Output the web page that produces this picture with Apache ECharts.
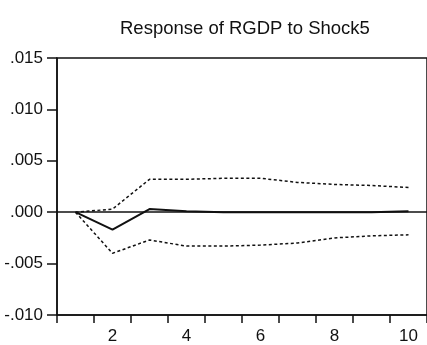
<!DOCTYPE html>
<html>
<head>
<meta charset="utf-8">
<script src="https://cdn.jsdelivr.net/npm/echarts@6/dist/echarts.min.js"></script>
<style>
  html, body { margin: 0; padding: 0; background: #fff; }
  #main { width: 427px; height: 345px; }
</style>
</head>
<body>
<div id="main"></div>
<script>
var periods = ['1', '2', '3', '4', '5', '6', '7', '8', '9', '10'];
var response = [0.0000, -0.0017, 0.0003, 0.0001, 0.0000, 0.0000, 0.0000, 0.0000, 0.0000, 0.0001];
var upperBand = [0.0000, 0.0003, 0.0032, 0.0032, 0.0033, 0.0033, 0.0029, 0.0027, 0.0026, 0.0024];
var lowerBand = [0.0000, -0.0040, -0.0027, -0.0033, -0.0033, -0.0032, -0.0030, -0.0025, -0.0023, -0.0022];

var chartDom = document.getElementById('main');
var myChart = echarts.init(chartDom);
var option;

function fmt(v) {
  var s = Math.abs(v).toFixed(3).replace(/^0/, '');
  return (v < -1e-9 ? '-' : '') + s;
}

var dotted = {
  color: '#111',
  width: 1.5,
  type: [3, 2.5]
};

option = {
  backgroundColor: '#fff',
  animation: false,
  title: {
    text: 'Response of RGDP to Shock5',
    left: 115,
    top: 14,
    textStyle: {
      fontFamily: 'Liberation Sans',
      fontSize: 18.5,
      fontWeight: 'normal',
      color: '#111'
    }
  },
  grid: {
    left: 57,
    top: 58,
    right: -3,
    bottom: 28,
    show: true,
    borderColor: '#111',
    borderWidth: 1.5
  },
  xAxis: {
    type: 'category',
    data: periods,
    boundaryGap: true,
    axisLine: { show: true, onZero: false, lineStyle: { color: '#111', width: 1.5 } },
    axisTick: { show: true, interval: 0, length: 8, lineStyle: { color: '#111', width: 1.5 } },
    axisLabel: {
      interval: function (index) { return index % 2 === 1; },
      fontFamily: 'Liberation Sans',
      fontSize: 17,
      color: '#111',
      margin: 13
    }
  },
  yAxis: {
    type: 'value',
    min: -0.010,
    max: 0.015,
    interval: 0.005,
    splitLine: { show: false },
    axisLine: { show: true, onZero: false, lineStyle: { color: '#111', width: 1.5 } },
    axisTick: { show: true, inside: false, length: 10, lineStyle: { color: '#111', width: 1.5 } },
    axisLabel: {
      formatter: fmt,
      fontFamily: 'Liberation Sans',
      fontSize: 17,
      color: '#111',
      margin: 14
    }
  },
  series: [
    {
      name: 'Response',
      type: 'line',
      data: response,
      symbol: 'none',
      lineStyle: { color: '#111', width: 2 },
      z: 3,
      markLine: {
        silent: true,
        symbol: 'none',
        label: { show: false },
        lineStyle: { color: '#111', width: 1.5, type: 'solid' },
        data: [{ yAxis: 0 }]
      }
    },
    {
      name: 'Upper',
      type: 'line',
      data: upperBand,
      symbol: 'none',
      lineStyle: dotted
    },
    {
      name: 'Lower',
      type: 'line',
      data: lowerBand,
      symbol: 'none',
      lineStyle: dotted
    }
  ]
};

option && myChart.setOption(option);
</script>
</body>
</html>
